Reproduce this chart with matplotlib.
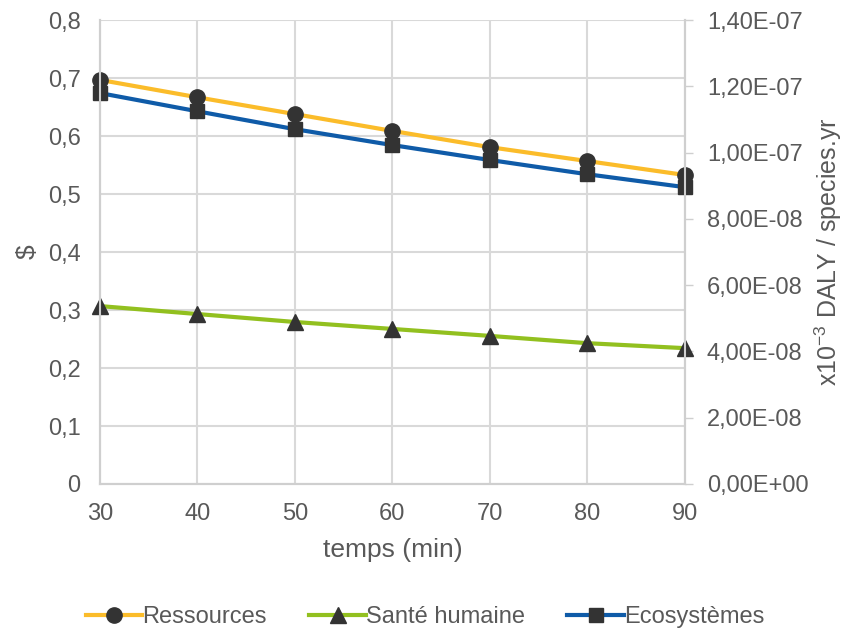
import matplotlib.pyplot as plt
from matplotlib.ticker import FuncFormatter, MultipleLocator

plt.rcParams['font.family'] = ['Liberation Sans', 'DejaVu Sans']

# data
temps = [30, 40, 50, 60, 70, 80, 90]
ressources = [0.697, 0.667, 0.638, 0.609, 0.581, 0.557, 0.533]            # $
sante = [5.37e-8, 5.13e-8, 4.89e-8, 4.68e-8, 4.47e-8, 4.25e-8, 4.10e-8]   # DALY
ecosys = [11.80e-8, 11.25e-8, 10.71e-8, 10.23e-8, 9.78e-8, 9.35e-8, 8.96e-8]

txt = '#595959'
grid = '#d9d9d9'

fig = plt.figure(figsize=(8.5, 6.31), dpi=100)
ax = fig.add_axes([0.1176, 0.233, 0.688, 0.735])
ax2 = ax.twinx()

l1, = ax.plot(temps, ressources, color='#FBBC2A', lw=3, marker='o', ms=11,
              mfc='#333333', mec='#333333', label='Ressources', zorder=3, clip_on=False)
l2, = ax2.plot(temps, sante, color='#92C01F', lw=3, marker='^', ms=11,
               mfc='#333333', mec='#333333', label='Santé humaine', clip_on=False)
l3, = ax2.plot(temps, ecosys, color='#0F5BA8', lw=3, marker='s', ms=10,
               mfc='#333333', mec='#333333', label='Ecosystèmes', clip_on=False)

ax.set_xlim(30, 90)
ax.set_ylim(0, 0.8)
ax2.set_ylim(0, 1.4e-7)
ax.xaxis.set_major_locator(MultipleLocator(10))
ax.yaxis.set_major_locator(MultipleLocator(0.1))
ax2.yaxis.set_major_locator(MultipleLocator(2e-8))

ax.yaxis.set_major_formatter(FuncFormatter(lambda v, p: ('%g' % round(v, 2)).replace('.', ',')))
def sci(v, p):
    s = '%.2E' % v
    return s.replace('.', ',')
ax2.yaxis.set_major_formatter(FuncFormatter(sci))

ax.grid(True, color=grid, lw=1.5)
ax.set_axisbelow(True)
for a in (ax, ax2):
    for s in a.spines.values():
        s.set_color('#cfcfcf')
        s.set_linewidth(1.5)
    a.spines['top'].set_visible(False)
ax.tick_params(axis='x', length=0, labelsize=17, colors=txt, pad=14)
ax.tick_params(axis='y', length=0, labelsize=17, colors=txt, pad=14)
ax2.tick_params(axis='y', length=6, width=1, color='#cfcfcf', labelsize=17, labelcolor=txt, pad=10)

ax.set_xlabel('temps (min)', fontsize=19, color=txt, labelpad=9)
ax.set_ylabel('$', fontsize=19, color=txt, labelpad=6)
ax2.set_ylabel(r'x10$^{\mathregular{-3}}$ DALY / species.yr', fontsize=18, color=txt, labelpad=3)

leg = fig.legend(handles=[l1, l2, l3], loc='center', bbox_to_anchor=(0.5, 0.022),
                 ncol=3, frameon=False, fontsize=17, handlelength=2.4,
                 handletextpad=0.0, columnspacing=1.8)
for t in leg.get_texts():
    t.set_color(txt)

fig.savefig('out.png', dpi=100)
